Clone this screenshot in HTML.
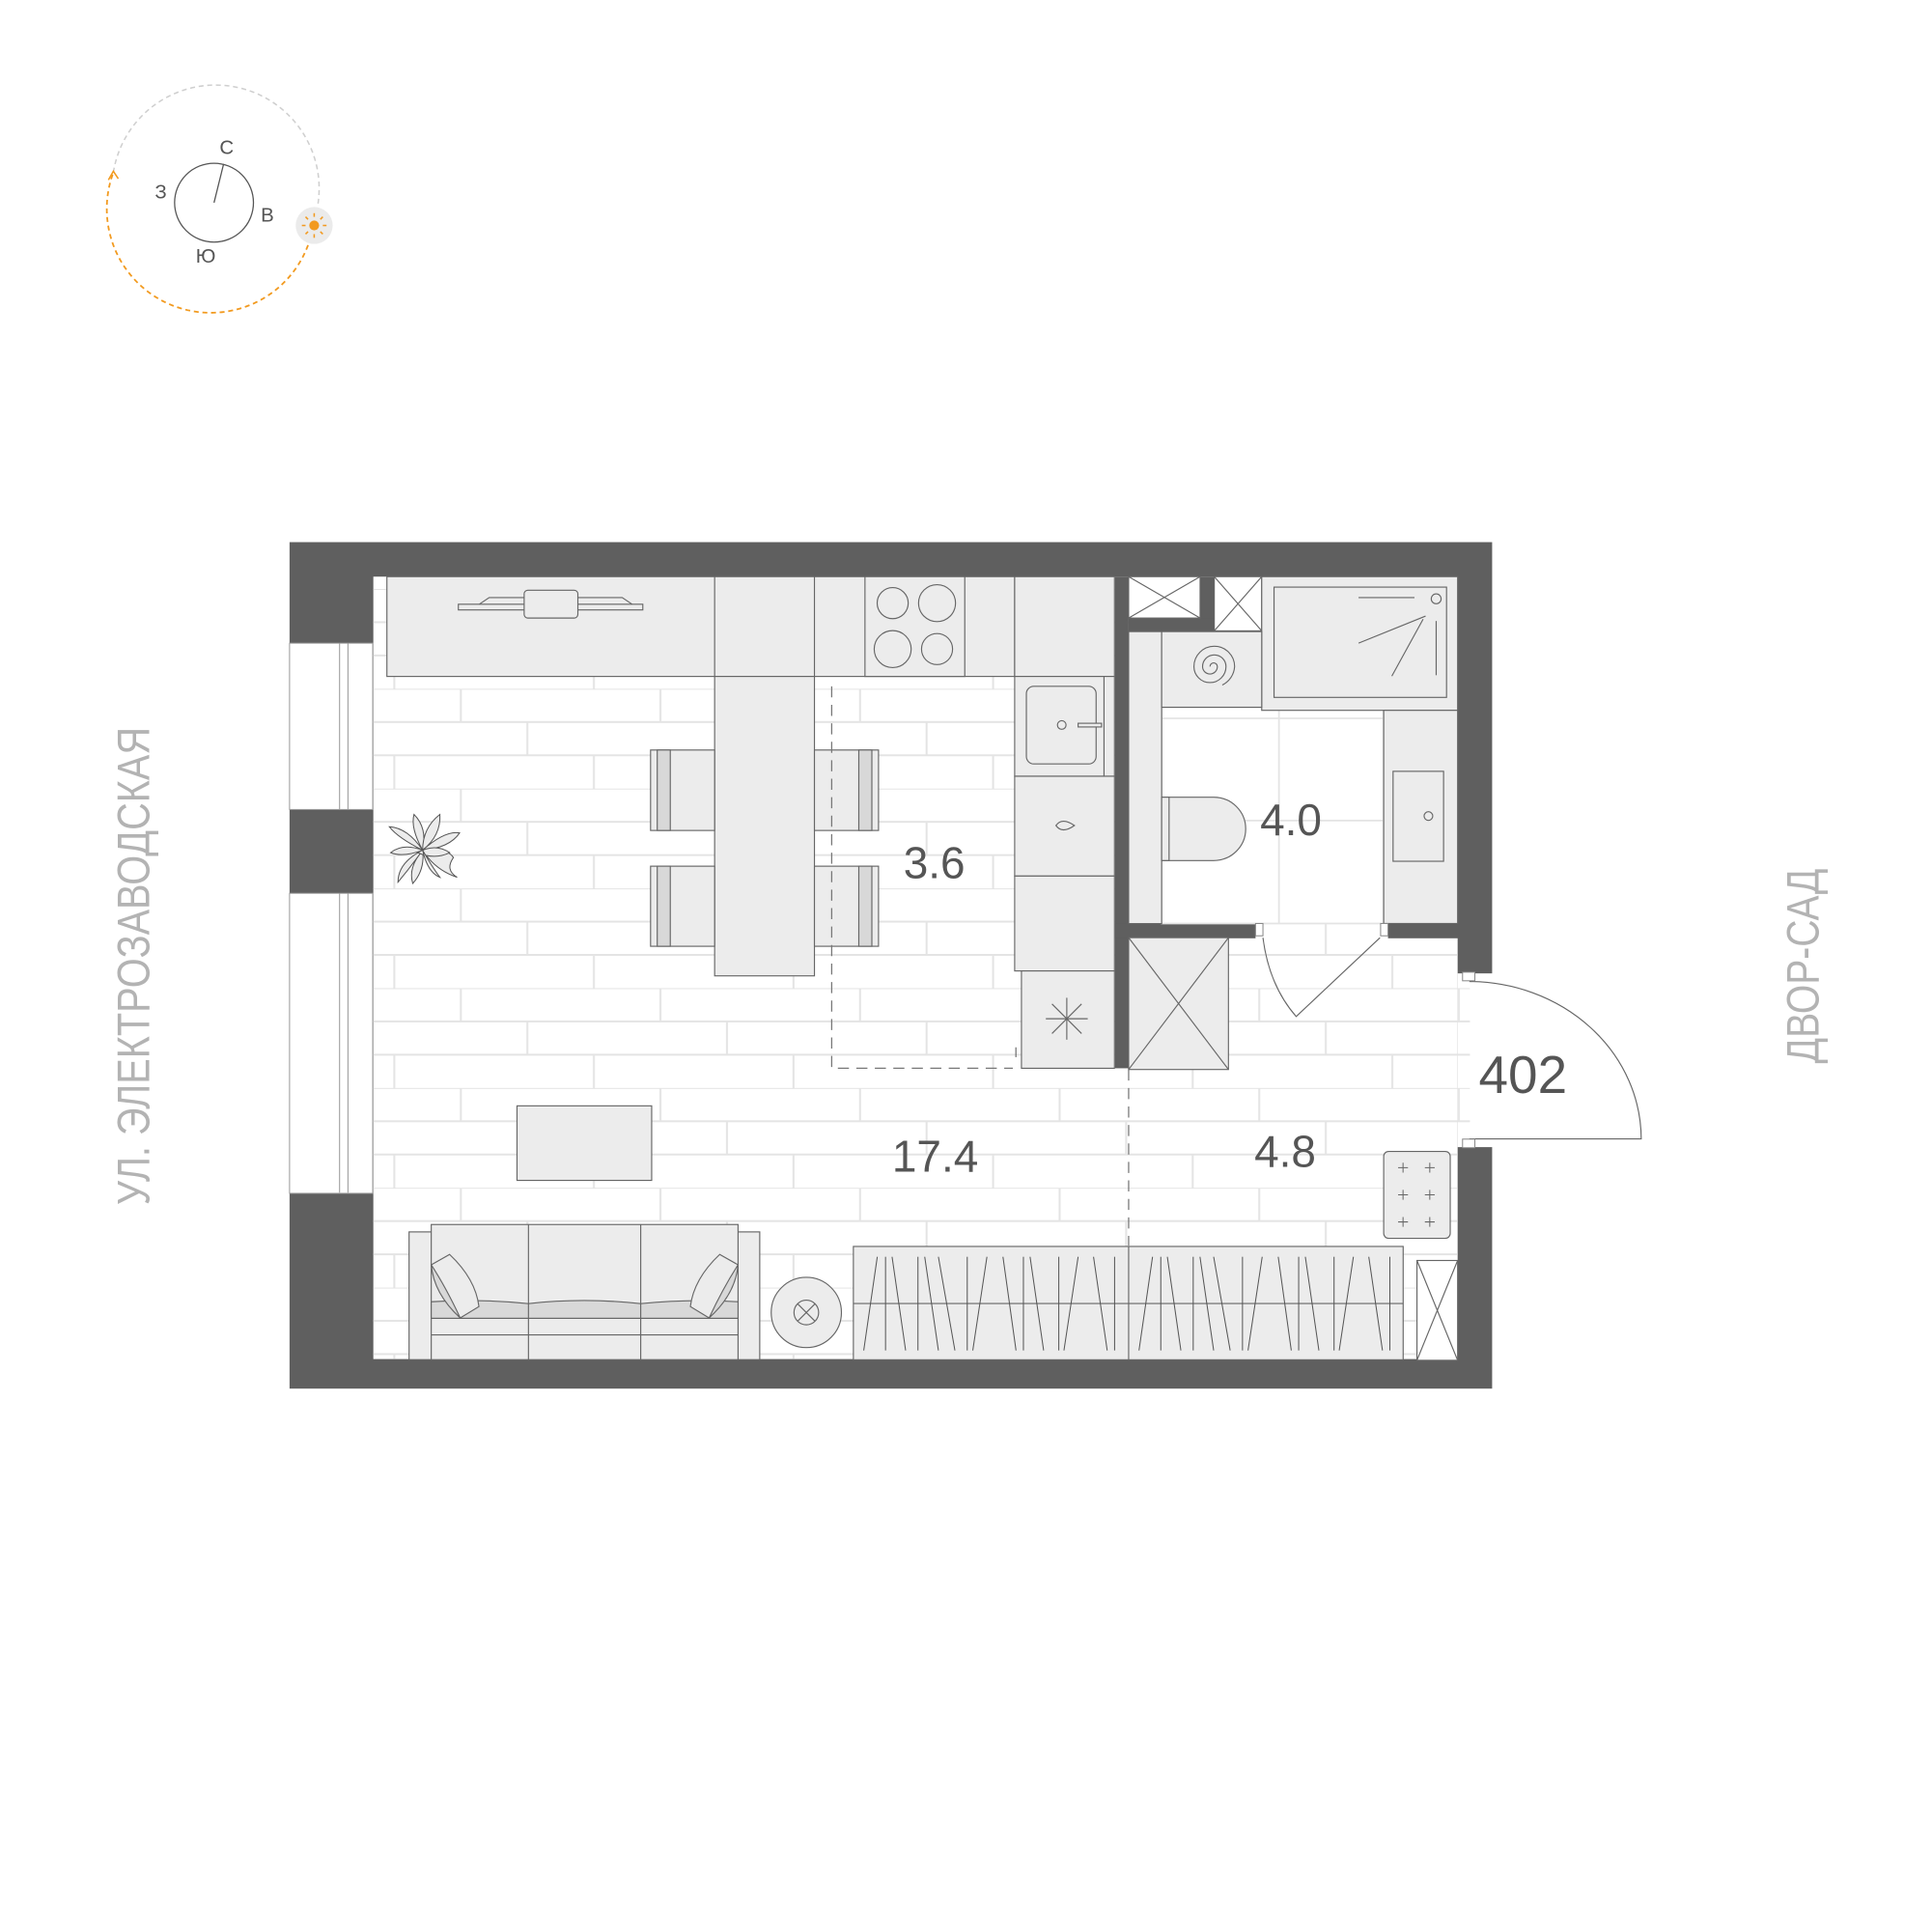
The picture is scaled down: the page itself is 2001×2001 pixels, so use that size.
<!DOCTYPE html>
<html><head><meta charset="utf-8"><style>html,body{margin:0;padding:0;background:#fff}svg{display:block}</style></head>
<body>
<svg xmlns="http://www.w3.org/2000/svg" width="2001" height="2001" viewBox="0 0 1568 1568">
<defs>
<pattern id="br" patternUnits="userSpaceOnUse" x="0" y="559" width="162" height="81">
<g stroke="#e4e4e4" stroke-width="1.6" fill="none">
<line x1="0" y1="0" x2="162" y2="0"/><line x1="0" y1="27" x2="162" y2="27"/><line x1="0" y1="54" x2="162" y2="54"/>
<line x1="50" y1="0" x2="50" y2="27"/><line x1="104" y1="27" x2="104" y2="54"/><line x1="158" y1="54" x2="158" y2="81"/>
</g></pattern>
</defs>
<rect width="1568" height="1568" fill="#fff"/>

<!-- compass -->
<path d="M92 140 A84 84 0 0 1 258 166" fill="none" stroke="#cfcfcf" stroke-width="1.2" stroke-dasharray="4 3"/>
<path d="M250 199 A84 84 0 0 1 92 140" fill="none" stroke="#f29a1f" stroke-width="1.4" stroke-dasharray="4 3"/>
<path d="M88 146 L92 139 L96 145" fill="none" stroke="#f29a1f" stroke-width="1.2"/>
<circle cx="173.7" cy="164.5" r="32" fill="none" stroke="#555" stroke-width="1"/>
<line x1="173.7" y1="164.5" x2="181.5" y2="133" stroke="#555" stroke-width="1"/>
<circle cx="255" cy="183" r="15" fill="#ebebeb"/>
<circle cx="255" cy="183" r="4" fill="#f29a1f"/>
<g stroke="#f29a1f" stroke-width="1.2"><line x1="255" y1="173" x2="255" y2="176"/><line x1="255" y1="190" x2="255" y2="193"/><line x1="245" y1="183" x2="248" y2="183"/><line x1="262" y1="183" x2="265" y2="183"/><line x1="248" y1="176" x2="250" y2="178"/><line x1="260" y1="188" x2="262" y2="190"/><line x1="262" y1="176" x2="260" y2="178"/><line x1="248" y1="190" x2="250" y2="188"/></g>
<g font-family="Liberation Sans, DejaVu Sans, sans-serif" font-size="16" fill="#555" text-anchor="middle">
<text x="184" y="125">С</text><text x="130.5" y="161">З</text><text x="217" y="180">В</text><text x="167" y="213">Ю</text>
</g>

<!-- street labels -->
<text transform="translate(121,784) rotate(-90)" font-family="Liberation Sans, DejaVu Sans, sans-serif" font-size="37" fill="#b3b3b3" text-anchor="middle" textLength="388" lengthAdjust="spacingAndGlyphs">УЛ. ЭЛЕКТРОЗАВОДСКАЯ</text>
<text transform="translate(1476,784) rotate(-90)" font-family="Liberation Sans, DejaVu Sans, sans-serif" font-size="37" fill="#b3b3b3" text-anchor="middle" textLength="158" lengthAdjust="spacingAndGlyphs">ДВОР-САД</text>

<!-- walls -->
<rect x="235" y="440" width="976" height="687" fill="#5f5f5f"/>
<rect x="303" y="468" width="880" height="635" fill="#fff"/>
<rect x="1183" y="790" width="30" height="141" fill="#fff"/>
<rect x="303" y="468" width="880" height="635" fill="url(#br)"/>
<rect x="1183" y="790" width="10" height="141" fill="url(#br)"/>

<!-- windows -->
<g fill="#fff" stroke="#999" stroke-width="0.8">
<rect x="235" y="522" width="67.5" height="135"/><rect x="235" y="725" width="67.5" height="243.5"/>
<line x1="275.6" y1="522" x2="275.6" y2="657"/><line x1="282.4" y1="522" x2="282.4" y2="657"/>
<line x1="275.6" y1="725" x2="275.6" y2="968"/><line x1="282.4" y1="725" x2="282.4" y2="968"/>
</g>

<!-- bathroom / partition walls -->
<rect x="905" y="468" width="11" height="399" fill="#5f5f5f"/>
<rect x="905" y="749.5" width="114" height="12" fill="#5f5f5f"/>
<rect x="1126.5" y="749.5" width="57" height="12" fill="#5f5f5f"/>
<rect x="974" y="468" width="11.5" height="44" fill="#5f5f5f"/>
<rect x="916" y="501.6" width="108" height="11" fill="#5f5f5f"/>
<!-- bathroom floor -->
<rect x="942.8" y="574" width="180" height="175.5" fill="#fff" stroke="#e4e4e4" stroke-width="1.4"/>
<g stroke="#e4e4e4" stroke-width="1.4"><line x1="1038" y1="574" x2="1038" y2="749"/><line x1="942.8" y1="583" x2="1123" y2="583"/><line x1="942.8" y1="666" x2="1123" y2="666"/></g>

<g fill="#ececec" stroke="#666" stroke-width="0.9">
<rect x="916" y="468" width="58" height="33.6" fill="#fff"/>
<rect x="985.5" y="468" width="38.5" height="44" fill="#fff"/>
<rect x="1024" y="468" width="159" height="108.5"/>
<rect x="1034" y="476.5" width="140" height="89.5"/>
<rect x="916" y="512.6" width="26.8" height="237"/>
<rect x="942.8" y="512.6" width="81.2" height="61.4"/>
<rect x="1123" y="576.5" width="60" height="173"/>
<rect x="1130.6" y="626" width="41" height="73"/>
<path d="M942.8 647 H985 A26 25.7 0 0 1 985 698.4 H942.8 Z"/>
<rect x="942.8" y="647" width="6" height="51.4"/>
<rect x="916" y="761" width="81" height="107"/>
<rect x="1123" y="934.5" width="54" height="70.5" rx="4"/>
<rect x="1150" y="1023" width="33" height="81" fill="#fff"/>
</g>
<g stroke="#666" stroke-width="0.9" fill="none">
<line x1="916" y1="468" x2="974" y2="501.6"/><line x1="974" y1="468" x2="916" y2="501.6"/>
<line x1="985.5" y1="468" x2="1024" y2="512"/><line x1="1024" y1="468" x2="985.5" y2="512"/>
<line x1="916" y1="761" x2="997" y2="868"/><line x1="997" y1="761" x2="916" y2="868"/>
<line x1="1150" y1="1023" x2="1183" y2="1104"/><line x1="1183" y1="1023" x2="1150" y2="1104"/>
<circle cx="1165.6" cy="486" r="4"/>
<line x1="1102.6" y1="485" x2="1148" y2="485"/><line x1="1102.6" y1="522" x2="1157" y2="500"/><line x1="1129.6" y1="548.7" x2="1155" y2="502.5"/><line x1="1165.6" y1="504" x2="1165.6" y2="548"/>
<circle cx="1159.3" cy="662.3" r="3.5"/>
<path d="M982 541 a3 3 0 0 1 6 0 a6 6 0 0 1 -12 0 a9.5 9.5 0 0 1 19 0 a13 13 0 0 1 -26 0 a16.5 16.5 0 0 1 33 0 a18 18 0 0 1 -10 15"/>
<g stroke-width="0.8"><path d="M1134.7 947.7h8m-4-4v8M1156.4 947.7h8m-4-4v8M1134.7 969.7h8m-4-4v8M1156.4 969.7h8m-4-4v8M1134.7 991.7h8m-4-4v8M1156.4 991.7h8m-4-4v8"/></g>
<path d="M1025 761 Q1030 800 1052 825 L1120 761"/>
<path d="M1192.5 796.6 A140 128 0 0 1 1332 924.3 L1192.5 924.3"/>
</g>
<g fill="#fff" stroke="#888" stroke-width="0.8">
<rect x="1019" y="749.5" width="6" height="10"/><rect x="1120.5" y="749.5" width="6" height="10"/>
<rect x="1187" y="789" width="10" height="7"/><rect x="1187" y="924.5" width="10" height="7"/>
</g>

<!-- kitchen -->
<g fill="#ececec" stroke="#666" stroke-width="0.9">
<rect x="314" y="468" width="509.5" height="81"/>
<rect x="580" y="468" width="81" height="81"/>
<rect x="702" y="468" width="81" height="81"/>
<rect x="823.5" y="468" width="81" height="81"/>
<rect x="823.5" y="549" width="81" height="81"/>
<rect x="823.5" y="630" width="81" height="81"/>
<rect x="823.5" y="711" width="81" height="77"/>
<rect x="829" y="788" width="75.5" height="79"/>
<rect x="833" y="557" width="56.6" height="63" rx="6"/>
<rect x="875" y="587" width="19" height="3"/>
<rect x="580" y="549" width="81" height="243"/>
<rect x="528" y="608.7" width="52" height="65.3"/><rect x="528" y="703" width="52" height="65"/>
<rect x="661" y="608.7" width="52" height="65.3"/><rect x="661" y="703" width="52" height="65"/>
<rect x="419.6" y="897.5" width="109.3" height="60.5"/>
<rect x="332" y="999.8" width="284.6" height="103.7"/>
<rect x="350" y="993.8" width="249" height="109.7"/>
<path d="M350 1056.5 Q390 1054 428.9 1058 Q474 1053 520 1058 Q560 1054 599 1056.5 V1070 H350Z" fill="#d8d8d8"/>
<line x1="350" y1="1070" x2="599" y2="1070"/><line x1="350" y1="1083.4" x2="599" y2="1083.4"/>
<line x1="428.9" y1="993.8" x2="428.9" y2="1103.5"/><line x1="520" y1="993.8" x2="520" y2="1103.5"/>
<path d="M350 1026.5 L364.9 1018.1 Q386 1038 388.7 1060.4 L373.5 1069.6 Q354 1050 350 1026.5Z"/>
<path d="M350 1026.5 Q352 1050 373.5 1069.6 Q362 1045 350 1026.5Z" fill="#d8d8d8"/>
<path d="M599 1026.5 L584.1 1018.1 Q563 1038 560.3 1060.4 L575.5 1069.6 Q595 1050 599 1026.5Z"/>
<path d="M599 1026.5 Q597 1050 575.5 1069.6 Q587 1045 599 1026.5Z" fill="#d8d8d8"/>
<circle cx="654.4" cy="1065.2" r="28.5"/>
<rect x="692.6" y="1011.6" width="446.2" height="92"/>
</g>
<g stroke="#666" stroke-width="0.9" fill="none">
<circle cx="861.7" cy="588.4" r="3.5"/>
<line x1="896" y1="549" x2="896" y2="630"/>
<path d="M857 670 Q862 663 872 670 Q862 677 857 670Z"/>
<g transform="translate(865.8 826.8)"><line x1="-17" y1="0" x2="17" y2="0"/><line x1="0" y1="-17" x2="0" y2="17"/><line x1="-12" y1="-12" x2="12" y2="12"/><line x1="-12" y1="12" x2="12" y2="-12"/></g>
<line x1="824.5" y1="850" x2="824.5" y2="858"/>
<circle cx="724.5" cy="489.5" r="12.6"/><circle cx="760.5" cy="489.5" r="15"/>
<circle cx="724.5" cy="526.8" r="15"/><circle cx="760.5" cy="526.8" r="12.6"/>
<rect x="372" y="490.4" width="149.7" height="4.6" fill="#ececec"/>
<path d="M389 490.4 L397 485 H505 L513 490.4"/>
<rect x="425.4" y="479" width="43.6" height="22.6" rx="3" fill="#ececec"/>
<rect x="533.4" y="608.7" width="10.6" height="65.3" fill="#d8d8d8"/><rect x="533.4" y="703" width="10.6" height="65" fill="#d8d8d8"/>
<rect x="697" y="608.7" width="10.6" height="65.3" fill="#d8d8d8"/><rect x="697" y="703" width="10.6" height="65" fill="#d8d8d8"/>
<circle cx="654.4" cy="1065.2" r="10"/>
<line x1="647.3" y1="1058.1" x2="661.5" y2="1072.3"/><line x1="661.5" y1="1058.1" x2="647.3" y2="1072.3"/>
<line x1="692.6" y1="1057.9" x2="1138.8" y2="1057.9"/><line x1="916" y1="1011.6" x2="916" y2="1103.6"/>
</g>
<g stroke="#555" stroke-width="0.8" id="wl">
<line x1="712" y1="1020" x2="701" y2="1096"/><line x1="718.7" y1="1020" x2="718.7" y2="1096"/><line x1="724" y1="1020" x2="735" y2="1096"/>
<line x1="745" y1="1020" x2="745" y2="1096"/><line x1="750.5" y1="1020" x2="761.6" y2="1096"/><line x1="761.6" y1="1020" x2="775" y2="1096"/>
<line x1="785" y1="1020" x2="785" y2="1096"/><line x1="801" y1="1020" x2="789.5" y2="1096"/><line x1="814" y1="1020" x2="824.6" y2="1096"/>
<line x1="830.6" y1="1020" x2="830.6" y2="1096"/><line x1="836" y1="1020" x2="847" y2="1096"/><line x1="859.3" y1="1020" x2="859.3" y2="1096"/>
<line x1="875" y1="1020" x2="863.5" y2="1096"/><line x1="887.5" y1="1020" x2="898.6" y2="1096"/><line x1="904.6" y1="1020" x2="904.6" y2="1096"/>
</g>
<use href="#wl" transform="translate(223.4 0)"/>
<g stroke="#777" stroke-width="1" stroke-dasharray="9 6" fill="none">
<path d="M675 557 V867 H822"/>
<line x1="916" y1="868" x2="916" y2="1011"/>
</g>
<g fill="#ececec" stroke="#555" stroke-width="0.8" transform="translate(343 690)">
<path d="M0 0 Q-20 -10 -27 -19 Q-12 -18 0 0Z"/>
<path d="M0 0 Q-10 -18 -7 -29 Q4 -18 0 0Z"/>
<path d="M0 0 Q0 -18 14 -29 Q15 -12 0 0Z"/>
<path d="M0 0 Q18 -16 30 -14 Q22 -2 0 0Z"/>
<path d="M0 0 Q20 -2 25 6 Q18 16 28 22 Q10 16 0 0Z"/>
<path d="M0 0 Q2 16 -8 27 Q-12 14 0 0Z"/>
<path d="M0 0 Q-10 14 -20 26 Q-20 10 0 0Z"/>
<path d="M0 0 Q-16 6 -26 2 Q-16 -6 0 0Z"/>
<path d="M-4 2 Q10 -6 22 2 Q10 8 -4 2Z"/>
<path d="M0 0 Q8 14 14 22 Q4 18 0 0Z"/>
</g>

<g font-family="Liberation Sans, DejaVu Sans, sans-serif" fill="#555" text-anchor="middle">
<text x="758.3" y="712.5" font-size="36">3.6</text>
<text x="1047.7" y="678" font-size="36">4.0</text>
<text x="759" y="951" font-size="36">17.4</text>
<text x="1043" y="947" font-size="36">4.8</text>
<text x="1236" y="887" font-size="43">402</text>
</g>
</svg>
</body></html>
